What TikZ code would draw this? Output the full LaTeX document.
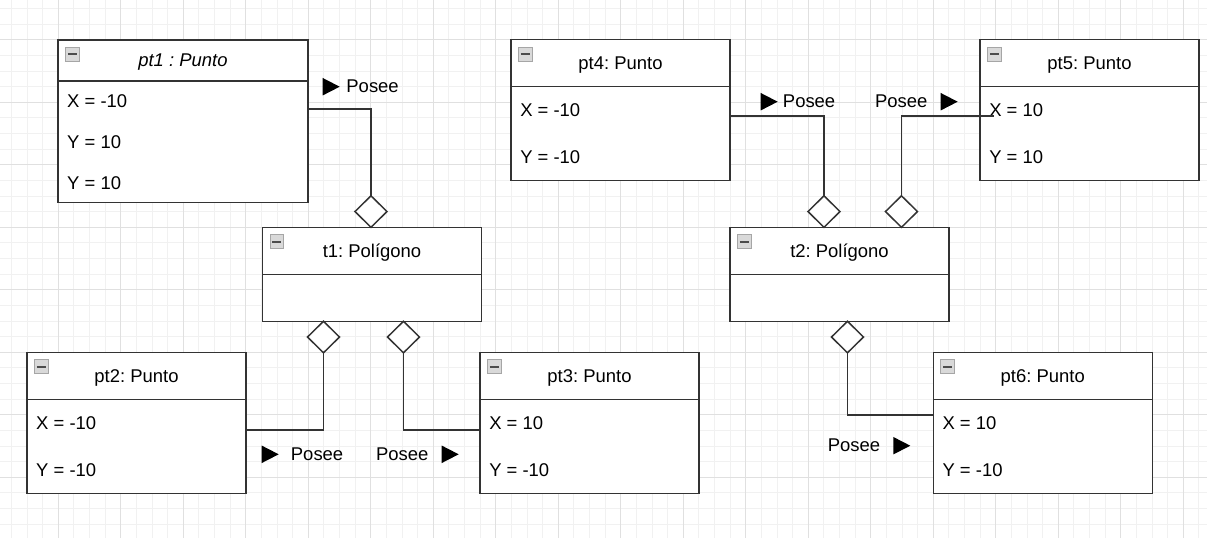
\documentclass[tikz,border=0pt]{standalone}
\usepackage{fontspec}
\setmainfont{Liberation Sans}
\usetikzlibrary{positioning}
\usetikzlibrary{shapes.geometric}

\definecolor{linea}{HTML}{333333}
\definecolor{rejilla}{HTML}{F1F1F1}
\definecolor{rejillamayor}{HTML}{E0E0E0}

\frenchspacing

\begin{document}
\begin{tikzpicture}[x=0.02cm,y=-0.02cm,line width=0.85pt,
  caja/.style={draw=linea, fill=white, anchor=north west, inner sep=0pt,
    outer sep=0pt, minimum width=4.38cm, font=\fontsize{10.5}{12}\selectfont},
  cabeza/.style={caja, minimum height=0.94cm, text depth=0pt},
  cuerpo/.style={caja, minimum height=1.88cm},
  icono/.style={draw=gray!70, fill=gray!30, anchor=north west, inner sep=0pt,
    minimum size=0.28cm, line width=0.5pt,
    path picture={\draw[black!70, line width=1.2pt]
      ([xshift=0.05cm]path picture bounding box.west) --
      ([xshift=-0.05cm]path picture bounding box.east);}},
  atrib/.style={anchor=west, inner sep=0pt, font=\fontsize{10.5}{12}\selectfont},
  rombo/.style={diamond, draw=linea, fill=white, inner sep=0pt, outer sep=0pt,
    minimum width=0.64cm, minimum height=0.63cm},
  conector/.style={draw=linea},
  flecha/.style={isosceles triangle, isosceles triangle stretches, fill=black,
    inner sep=0pt, outer sep=0pt, minimum width=0.35cm, minimum height=0.34cm,
    anchor=lower side},
  etiq/.style={inner sep=0pt, font=\fontsize{10.5}{12}\selectfont}]

  \useasboundingbox (0,0) rectangle (1207,538);

  % fondo cuadriculado
  \begin{scope}
    \clip (0,0) rectangle (1207,538);
    \foreach \i in {0,...,78}
      \draw[rejilla, line width=0.5pt] ({-4.2+15.625*\i},0) -- ++(0,538);
    \foreach \i in {0,...,35}
      \draw[rejilla, line width=0.5pt] (0,{-7.075+15.625*\i}) -- ++(1207,0);
    \foreach \i in {0,...,19}
      \draw[rejillamayor, line width=0.5pt] ({-4.2+62.5*\i},0) -- ++(0,538);
    \foreach \i in {0,...,9}
      \draw[rejillamayor, line width=0.5pt] (0,{-22.7+62.5*\i}) -- ++(1207,0);
  \end{scope}

  % objetos
  \node[cabeza, minimum width=5cm, minimum height=0.82cm] (pt1) at (58,40) {\itshape pt1 : Punto};
  \node[cuerpo, minimum width=5cm, minimum height=2.43cm] (pt1a) at (pt1.south west) {};

  \node[cabeza] (t1) at (262.5,227.3) {t1: Polígono};
  \node[caja, minimum height=0.94cm] (t1a) at (t1.south west) {};

  \node[cabeza] (pt2) at (27,352.3) {pt2: Punto};
  \node[cuerpo] (pt2a) at (pt2.south west) {};

  \node[cabeza] (pt3) at (480,352.3) {pt3: Punto};
  \node[cuerpo] (pt3a) at (pt3.south west) {};

  \node[cabeza] (pt4) at (511,39.7) {pt4: Punto};
  \node[cuerpo] (pt4a) at (pt4.south west) {};

  \node[cabeza] (pt5) at (980,39.7) {pt5: Punto};
  \node[cuerpo] (pt5a) at (pt5.south west) {};

  \node[cabeza] (t2) at (730,227.3) {t2: Polígono};
  \node[caja, minimum height=0.94cm] (t2a) at (t2.south west) {};

  \node[cabeza] (pt6) at (933.3,352.3) {pt6: Punto};
  \node[cuerpo] (pt6a) at (pt6.south west) {};

  % iconos de plegar
  \foreach \n in {pt1,t1,pt2,pt3,pt4,pt5,t2,pt6}
    \node[icono] (i\n) at ([xshift=0.14cm,yshift=-0.14cm]\n.north west) {};

  % atributos
  \node[atrib] (pt1x) at ([xshift=0.17cm,yshift=0.815cm]pt1a.west) {X = -10};
  \node[atrib] (pt1y) at ([xshift=0.17cm]pt1a.west) {Y = 10};
  \node[atrib] (pt1z) at ([xshift=0.17cm,yshift=-0.82cm]pt1a.west) {Y = 10};

  \node[atrib] (pt2x) at ([xshift=0.17cm,yshift=0.47cm]pt2a.west) {X = -10};
  \node[atrib] (pt2y) at ([xshift=0.17cm,yshift=-0.47cm]pt2a.west) {Y = -10};

  \node[atrib] (pt3x) at ([xshift=0.17cm,yshift=0.47cm]pt3a.west) {X = 10};
  \node[atrib] (pt3y) at ([xshift=0.17cm,yshift=-0.47cm]pt3a.west) {Y = -10};

  \node[atrib] (pt4x) at ([xshift=0.17cm,yshift=0.47cm]pt4a.west) {X = -10};
  \node[atrib] (pt4y) at ([xshift=0.17cm,yshift=-0.47cm]pt4a.west) {Y = -10};

  \node[atrib] (pt5x) at ([xshift=0.17cm,yshift=0.47cm]pt5a.west) {X = 10};
  \node[atrib] (pt5y) at ([xshift=0.17cm,yshift=-0.47cm]pt5a.west) {Y = 10};

  \node[atrib] (pt6x) at ([xshift=0.17cm,yshift=0.47cm]pt6a.west) {X = 10};
  \node[atrib] (pt6y) at ([xshift=0.17cm,yshift=-0.47cm]pt6a.west) {Y = -10};

  % rombos de agregacion
  \node[rombo, anchor=south] (r1) at ([xshift=-0.02cm]t1.north) {};
  \node[rombo, anchor=north] (r2) at ([xshift=-0.97cm]t1a.south) {};
  \node[rombo, anchor=north] (r3) at ([xshift=0.63cm]t1a.south) {};
  \node[rombo, anchor=south] (r4) at ([xshift=-0.31cm]t2.north) {};
  \node[rombo, anchor=south] (r5) at ([xshift=1.24cm]t2.north) {};
  \node[rombo, anchor=north] (r6) at ([xshift=0.16cm]t2a.south) {};

  % conectores
  \draw[conector] ([yshift=0.65cm]pt1a.east) -| (r1.north);
  \draw[conector] ([yshift=0.33cm]pt2a.east) -| (r2.south);
  \draw[conector] ([yshift=0.33cm]pt3a.west) -| (r3.south);
  \draw[conector] ([yshift=0.35cm]pt4a.east) -| (r4.north);
  \draw[conector] ([xshift=0.27cm,yshift=0.35cm]pt5a.west) -| (r5.north);
  \draw[conector] ([yshift=0.63cm]pt6a.west) -| (r6.south);

  % etiquetas Posee
  \node[flecha] (f1) at (322.7,86.7) {};
  \node[etiq, right=0.12cm of f1.apex] (e1) {Posee};
  \node[flecha] (f2) at (261.7,454.3) {};
  \node[etiq, right=0.23cm of f2.apex] (e2) {Posee};
  \node[flecha] (f3) at (441.7,454.3) {};
  \node[etiq, left=0.25cm of f3.lower side] (e3) {Posee};
  \node[flecha] (f4) at (760.7,101.7) {};
  \node[etiq, right=0.09cm of f4.apex] (e4) {Posee};
  \node[flecha] (f5) at (940.7,101.7) {};
  \node[etiq, left=0.25cm of f5.lower side] (e5) {Posee};
  \node[flecha] (f6) at (893.3,445.7) {};
  \node[etiq, left=0.25cm of f6.lower side] (e6) {Posee};

\end{tikzpicture}
\end{document}
